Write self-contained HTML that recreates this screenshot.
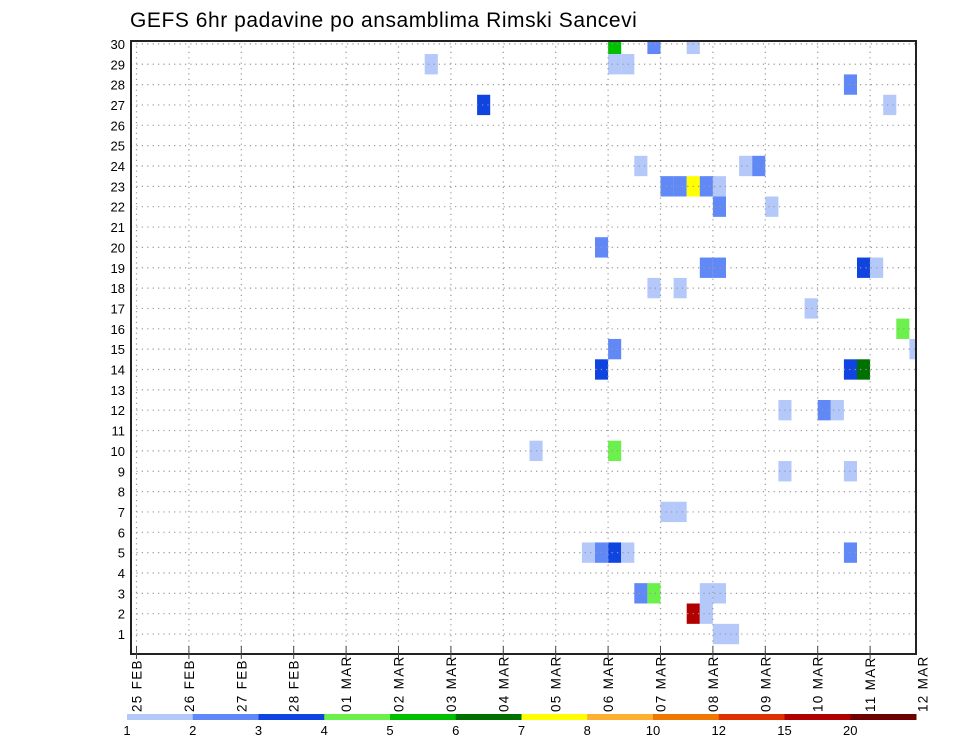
<!DOCTYPE html>
<html><head><meta charset="utf-8"><style>
body{margin:0;background:#fff;width:960px;height:742px;overflow:hidden}
svg{display:block;font-family:"Liberation Sans",sans-serif}
</style></head><body>
<svg id="c" width="960" height="742">
<text x="130" y="27" font-size="21" letter-spacing="0.55" fill="#000">GEFS 6hr padavine po ansamblima Rimski Sancevi</text>
</svg>
<script>
const dayLabels=["25 FEB","26 FEB","27 FEB","28 FEB","01 MAR","02 MAR","03 MAR","04 MAR","05 MAR","06 MAR","07 MAR","08 MAR","09 MAR","10 MAR","11 MAR","12 MAR"];
const members=[1,2,3,4,5,6,7,8,9,10,11,12,13,14,15,16,17,18,19,20,21,22,23,24,25,26,27,28,29,30];
const levels=[1,2,3,4,5,6,7,8,10,12,15,20];
const colors=["#b4c8fa","#6088f6","#1044e0","#6cf04c","#00c000","#007000","#ffff00","#ffb030","#f07800","#e03000","#b00000","#6e0000"];
// cells: member row, 6-hour step index from 25 FEB 00Z, precip value (mm)
const cellMember=[30,30,30,29,29,29,28,27,27,24,24,24,23,23,23,23,23,22,22,20,19,19,19,19,18,18,17,16,15,15,14,14,14,12,12,12,10,10,9,9,7,7,5,5,5,5,5,3,3,3,3,2,2,1,1];
const cellStep=[36,39,42,22,36,37,54,26,57,38,46,47,40,41,42,43,44,44,48,35,43,44,55,56,39,41,51,58,36,59,35,54,55,49,52,53,30,36,49,54,40,41,34,35,36,37,54,38,39,43,44,42,43,44,45];
const cellValue=[5.5,2.5,1.5,1.5,1.5,1.5,2.5,3.5,1.5,1.5,1.5,2.5,2.5,2.5,7.5,2.5,1.5,2.5,1.5,2.5,2.5,2.5,3.5,1.5,1.5,1.5,1.5,4.5,2.5,1.5,3.5,3.5,6.5,1.5,2.5,1.5,1.5,4.5,1.5,1.5,1.5,1.5,1.5,2.5,3.5,1.5,2.5,2.5,4.5,1.5,1.5,17,1.5,1.5,1.5];

const NS="http://www.w3.org/2000/svg";
const svg=document.getElementById('c');
const L=131,R=916,T=41,B=654;
const x0=136.5,dayW=52.4;
const xs=d=>x0+d*dayW;
const ys=m=>654.4-m*20.35;
function colorOf(v){let i=0;for(let j=0;j<levels.length;j++){if(v>=levels[j])i=j;}return colors[i];}
function mk(tag,attrs,parent){const e=document.createElementNS(NS,tag);for(const k in attrs)e.setAttribute(k,attrs[k]);(parent||svg).appendChild(e);return e;}

const clip=mk('clipPath',{id:'pc'});mk('rect',{x:L,y:T,width:R-L,height:B-T},clip);
const cg=mk('g',{'clip-path':'url(#pc)'});


for(let i=0;i<cellMember.length;i++){
  const x=xs(cellStep[i]/4),w=dayW/4,yc=ys(cellMember[i]);
  const r=mk('rect',{x:x,y:yc-10.2,width:w,height:20.35,fill:colorOf(cellValue[i])},cg);
  
  
}
// grid
const gg=mk('g',{stroke:'#999','stroke-width':1.2,'stroke-dasharray':'1.2 4.2'});


members.forEach(m=>{mk('line',{x1:L,x2:R,y1:ys(m),y2:ys(m)},gg);});
dayLabels.forEach((d,i)=>{const x=xs(i);if(x>L&&x<R)mk('line',{x1:x,x2:x,y1:T,y2:B},gg);});
// frame
const fr=mk('rect',{x:L,y:T,width:R-L,height:B-T,fill:'none',stroke:'#222','stroke-width':2});


// y labels
members.forEach(m=>{
  const t=mk('text',{x:125,y:ys(m)+5,'font-size':13,'text-anchor':'end',fill:'#000'});
  t.textContent=m;
  
  
});
// x ticks and labels
dayLabels.forEach((d,i)=>{
  const x=xs(i);
  if(x<R)mk('line',{x1:x,x2:x,y1:B-8,y2:B+5,stroke:'#444','stroke-width':1});
  const t=mk('text',{transform:`translate(${x+5},${712}) rotate(-90)`,'font-size':13.5,'letter-spacing':1.3,fill:'#000'});
  t.textContent=d;
  
  
});
// colorbar
const cbL=127,cbW=(916-127)/12;
const cb=mk('g',{});


colors.forEach((c,i)=>{
  mk('rect',{x:cbL+i*cbW,y:714,width:cbW+0.5,height:6,fill:c},cb);
  const t=mk('text',{x:cbL+i*cbW,y:735,'font-size':13,'text-anchor':'middle',fill:'#000'},cb);
  t.textContent=levels[i];
  
  
});
</script>
</body></html>
